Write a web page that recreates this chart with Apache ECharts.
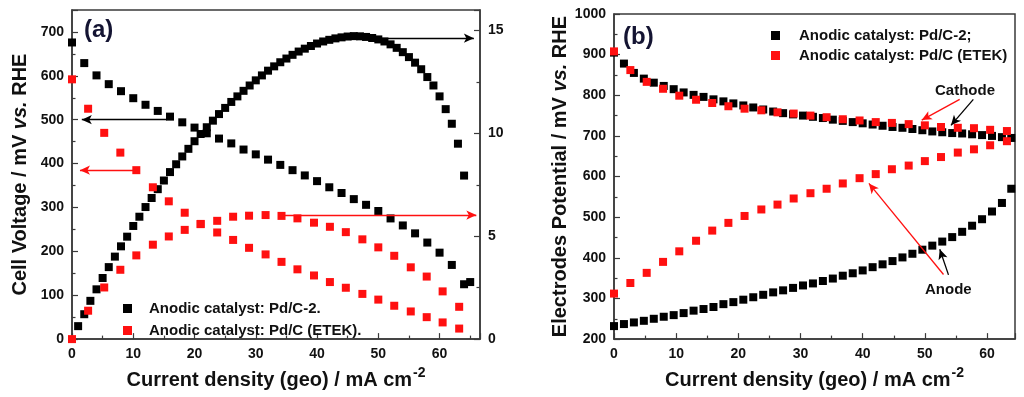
<!DOCTYPE html>
<html><head><meta charset="utf-8">
<script src="https://cdn.jsdelivr.net/npm/echarts@6/dist/echarts.min.js"></script>
<style>html,body{margin:0;padding:0;background:#fff}#c{width:1024px;height:397px}</style>
</head><body><div id="c"></div>
<script>
// ---------- Panel (a) ----------
const aBlackVoltX = [0,2,4,6,8,10,12,14,16,18,20,22,24,26,28,30,32,34,36,38,40,42,44,46,48,50,52,54,56,58,60,62,64,65];
const aBlackVolt  = [676,629,601,581,565,549,534,520,507,494,482,469,457,446,432,421,409,397,385,373,360,346,333,319,306,292,275,259,241,220,197,169,125,130];
const aBlackPowX  = [1,2,3,4,5,6,7,8,9,10,11,12,13,14,15,16,17,18,19,20,21,22,23,24,25,26,27,28,29,30,31,32,33,34,35,36,37,38,39,40,41,42,43,44,45,46,47,48,49,50,51,52,53,54,55,56,57,58,59,60,61,62,63,64];
const aBlackPow   = [0.63,1.21,1.86,2.42,2.97,3.50,4.01,4.51,4.98,5.50,5.95,6.42,6.86,7.29,7.71,8.12,8.50,8.88,9.25,9.62,9.97,10.30,10.62,10.94,11.24,11.53,11.80,12.07,12.33,12.58,12.82,13.05,13.26,13.46,13.64,13.82,13.98,14.12,14.25,14.37,14.47,14.55,14.62,14.67,14.71,14.73,14.72,14.69,14.64,14.57,14.47,14.33,14.16,13.95,13.71,13.44,13.12,12.74,12.33,11.80,11.18,10.47,9.50,7.95];
const aRedX       = [0,2.63,5.26,7.89,10.5,13.2,15.8,18.4,21.0,23.7,26.3,28.9,31.6,34.2,36.8,39.5,42.1,44.7,47.4,50.0,52.6,55.3,57.9,60.5,63.2];
const aRedVolt    = [592,525,470,425,385,346,314,288,262,243,226,208,193,176,159,145,130,117,103,90,76,63,50,38,24];
const aRedPow     = [0,1.38,2.51,3.37,4.07,4.59,4.99,5.31,5.60,5.75,5.95,6.00,6.03,5.99,5.87,5.66,5.46,5.20,4.85,4.46,4.05,3.49,3.04,2.32,1.57];
const aNames      = ['Anodic catalyst: Pd/C-2.', 'Anodic catalyst: Pd/C (ETEK).'];

// ---------- Panel (b) ----------
const bBlackX       = [0,1.6,3.2,4.8,6.4,8.0,9.6,11.2,12.8,14.4,16.0,17.6,19.2,20.8,22.4,24.0,25.6,27.2,28.8,30.4,32.0,33.6,35.2,36.8,38.4,40.0,41.6,43.2,44.8,46.4,48.0,49.6,51.2,52.8,54.4,56.0,57.6,59.2,60.8,62.4,63.9];
const bBlackCathode = [905,878,855,841,831,823,815,807,801,796,790,785,780,775,770,765,760,756,753,750,747,744,740,737,734,731,728,725,722,720,717,714,711,709,707,706,704,702,700,697,695];
const bBlackAnode   = [232,237,241,245,250,255,259,264,270,274,279,286,291,297,303,309,315,320,326,332,337,343,349,356,362,369,377,384,392,401,410,420,430,440,451,464,479,495,514,535,570];
const bRedX         = [0,2.63,5.26,7.89,10.5,13.2,15.8,18.4,21.0,23.7,26.3,28.9,31.6,34.2,36.8,39.5,42.1,44.7,47.4,50.0,52.6,55.3,57.9,60.5,63.2];
const bRedCathode   = [908,862,833,816,799,789,781,773,767,763,758,755,750,746,741,738,734,732,729,726,722,720,719,715,712];
const bRedAnode     = [312,338,363,390,416,442,467,486,503,519,531,546,559,570,583,596,606,618,627,638,648,659,667,677,687];
const bNames        = ['Anodic catalyst: Pd/C-2;', 'Anodic catalyst: Pd/C (ETEK)'];

// ---------- Axis ticks ----------
const aXTicks = {min: 0, max: 66.6, interval: 10};
const aYLeft  = {min: 0, max: 750, interval: 100};
const aYRight = {min: 0, max: 16, interval: 5};
const bXTicks = {min: 0, max: 64.5, interval: 10};
const bYTicks = {min: 200, max: 1000, interval: 100};

const FONT = 'Liberation Sans, Arial, Helvetica, sans-serif';
const BLACK = '#000000', RED = '#ff1010', AX = '#3a3a3a';
const pair = (xs, ys) => xs.map((x, i) => [x, ys[i]]);

function valueAxis(t, vertical, extra) {
  const lbl = {
    color: '#111', fontFamily: FONT, fontWeight: 'bold', fontSize: 14,
    formatter: v => (Math.abs(v / t.interval - Math.round(v / t.interval)) < 1e-6 ? String(v) : '')
  };
  if (vertical) { lbl.verticalAlign = 'middle'; lbl.verticalAlignMinLabel = 'middle'; lbl.verticalAlignMaxLabel = 'middle'; }
  else { lbl.align = 'center'; lbl.alignMinLabel = 'center'; lbl.alignMaxLabel = 'center'; }
  return Object.assign({
    type: 'value', min: t.min, max: t.max, interval: t.interval,
    axisLine: {show: true, onZero: false, lineStyle: {color: AX, width: 1.5}},
    axisTick: {show: true, inside: true, length: 6, lineStyle: {color: AX, width: 1.2}},
    minorTick: {show: true, splitNumber: 2, length: 3.5, lineStyle: {color: AX, width: 1.2}},
    splitLine: {show: false},
    axisLabel: lbl
  }, extra || {});
}

const xName = {
  name: '{t|Current density (geo) / mA cm}{s|-2}',
  nameLocation: 'middle', nameGap: 26,
  nameTextStyle: {
    rich: {
      t: {fontFamily: FONT, fontWeight: 'bold', fontSize: 20, color: '#111', lineHeight: 24, verticalAlign: 'bottom'},
      s: {fontFamily: FONT, fontWeight: 'bold', fontSize: 14, color: '#111', lineHeight: 24, verticalAlign: 'top', padding: [0, 0, 12, 1]}
    }
  }
};
function yName(txt, gap) {
  return {
    name: '{t|' + txt + ' / mV }{i|vs.}{t| RHE}',
    nameLocation: 'middle', nameGap: gap,
    nameTextStyle: {
      rich: {
        t: {fontFamily: FONT, fontWeight: 'bold', fontSize: 20, color: '#111'},
        i: {fontFamily: FONT, fontWeight: 'bold', fontStyle: 'italic', fontSize: 20, color: '#111'}
      }
    }
  };
}

function scatter(name, xi, yi, data, color, extra) {
  return Object.assign({
    type: 'scatter', name: name, xAxisIndex: xi, yAxisIndex: yi,
    symbol: 'rect', symbolSize: 8, data: data,
    itemStyle: {color: color, opacity: 1}, emphasis: {disabled: true}, animation: false
  }, extra || {});
}
function arrows(color, segs) {
  return {
    silent: true, animation: false, symbol: ['none', 'arrow'], symbolSize: [7, 10],
    lineStyle: {type: 'solid', color: color, width: 1.3}, label: {show: false},
    emphasis: {disabled: true},
    data: segs.map(s => [{coord: [s[0], s[1]]}, {coord: [s[2], s[3]]}])
  };
}

const gridStyle = {show: true, borderColor: AX, borderWidth: 1.5, backgroundColor: 'transparent', containLabel: false};

const option = {
  animation: false,
  backgroundColor: '#ffffff',
  grid: [
    Object.assign({left: 72, right: 544, top: 10, bottom: 53}, gridStyle),
    Object.assign({left: 614, right: 9, top: 14, bottom: 53}, gridStyle)
  ],
  xAxis: [
    valueAxis(aXTicks, false, Object.assign({gridIndex: 0, position: 'bottom'}, xName)),
    valueAxis(bXTicks, false, Object.assign({gridIndex: 1, position: 'bottom'}, xName))
  ],
  yAxis: [
    valueAxis(aYLeft, true, Object.assign({gridIndex: 0, position: 'left'}, yName('Cell Voltage', 42))),
    valueAxis(aYRight, true, {gridIndex: 0, position: 'right'}),
    valueAxis(bYTicks, true, Object.assign({gridIndex: 1, position: 'left'}, yName('Electrodes Potential', 44)))
  ],
  legend: [
    {
      data: aNames, orient: 'vertical', left: 118, top: 296, icon: 'rect',
      itemWidth: 9, itemHeight: 9, itemGap: 7, selectedMode: false,
      formatter: n => '{t|' + n + '}',
      textStyle: {rich: {t: {fontFamily: FONT, fontWeight: 'bold', fontSize: 15, color: '#111', lineHeight: 15, padding: [0, 0, 0, 12]}}}
    },
    {
      data: bNames, orient: 'vertical', left: 766, top: 23, icon: 'rect',
      itemWidth: 9, itemHeight: 9, itemGap: 5, selectedMode: false,
      formatter: n => '{t|' + n + '}',
      textStyle: {rich: {t: {fontFamily: FONT, fontWeight: 'bold', fontSize: 15, color: '#111', lineHeight: 15, padding: [0, 0, 0, 14]}}}
    }
  ],
  graphic: [
    {type: 'text', left: 84, top: 18, style: {text: '(a)', font: 'bold 24px ' + FONT, fill: '#141432'}},
    {type: 'text', left: 623, top: 25, style: {text: '(b)', font: 'bold 24px ' + FONT, fill: '#141432'}},
    {type: 'text', left: 935, top: 83, style: {text: 'Cathode', font: 'bold 15px ' + FONT, fill: '#111'}},
    {type: 'text', left: 925, top: 282, style: {text: 'Anode', font: 'bold 15px ' + FONT, fill: '#111'}}
  ],
  series: [
    scatter(aNames[0], 0, 0, pair(aBlackVoltX, aBlackVolt), BLACK, {markLine: arrows(BLACK, [[15.5, 500, 1.6, 500]])}),
    scatter(aNames[0], 0, 1, pair(aBlackPowX, aBlackPow), BLACK, {markLine: arrows(BLACK, [[49.9, 14.63, 65.6, 14.63]])}),
    scatter(aNames[1], 0, 0, pair(aRedX, aRedVolt), RED, {markLine: arrows(RED, [[10.4, 385, 1.3, 385]])}),
    scatter(aNames[1], 0, 1, pair(aRedX, aRedPow), RED, {markLine: arrows(RED, [[34.7, 6.03, 66.0, 6.03]])}),
    scatter(bNames[0], 1, 2, pair(bBlackX, bBlackCathode), BLACK, {markLine: arrows(BLACK, [[57.8, 790, 54.2, 726]])}),
    scatter(bNames[0], 1, 2, pair(bBlackX, bBlackAnode), BLACK, {markLine: arrows(BLACK, [[53.8, 358, 52.4, 421]])}),
    scatter(bNames[1], 1, 2, pair(bRedX, bRedCathode), RED, {markLine: arrows(RED, [[55.6, 790, 49.5, 739]])}),
    scatter(bNames[1], 1, 2, pair(bRedX, bRedAnode), RED, {markLine: arrows(RED, [[53.0, 359, 41.0, 583]])})
  ]
};

const chart = echarts.init(document.getElementById('c'), null, {renderer: 'canvas'});
chart.setOption(option);
</script>
</body></html>
